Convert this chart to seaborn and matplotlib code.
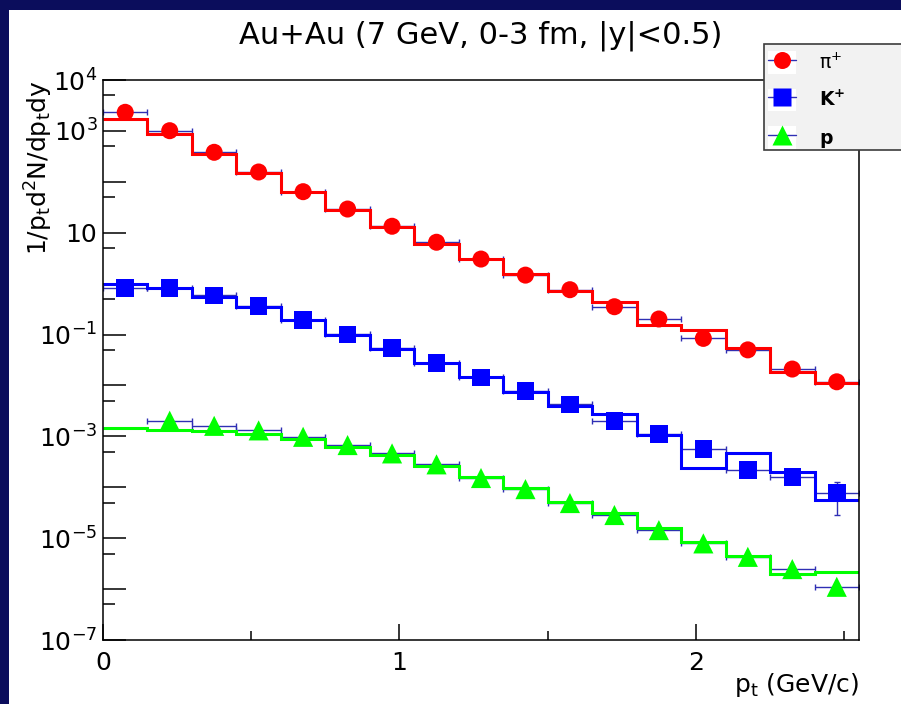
import numpy as np
import pandas as pd
import matplotlib
matplotlib.use("Agg")
import matplotlib.pyplot as plt
import seaborn as sns
from matplotlib.patches import Rectangle
from matplotlib.lines import Line2D
from matplotlib.legend_handler import HandlerTuple
from matplotlib.ticker import FixedLocator, FixedFormatter, NullFormatter

# ---- data: transverse-momentum bins (GeV/c) ----
bin_edges = [0.0, 0.15, 0.30, 0.45, 0.60, 0.75, 0.90, 1.05, 1.20, 1.35,
             1.50, 1.65, 1.80, 1.95, 2.10, 2.25, 2.40, 2.55]

# measured spectra (points) and model (histogram) per species
pion_data = [2320, 1010, 380, 156, 64.0, 29.2, 13.4, 6.5, 3.04, 1.47,
             0.76, 0.352, 0.202, 0.084, 0.050, 0.021, 0.0118]
pion_err = [70, 30, 11, 4.7, 1.9, 0.9, 0.4, 0.2, 0.09, 0.05,
            0.025, 0.012, 0.007, 0.003, 0.002, 0.001, 0.0012]
pion_model = [1690, 857, 352, 147, 62.2, 27.9, 13.1, 5.92, 3.0, 1.52,
              0.706, 0.429, 0.156, 0.121, 0.0543, 0.0181, 0.011]

kaon_data = [0.83, 0.83, 0.589, 0.363, 0.193, 0.101, 0.0543, 0.0279, 0.0144,
             0.00787, 0.00426, 0.00202, 0.00111, 0.000562, 0.000218,
             0.000161, 7.8e-5]
kaon_err = [0.03, 0.03, 0.02, 0.013, 0.007, 0.004, 0.002, 0.0012, 0.0007,
            0.0004, 0.00025, 0.00013, 8e-5, 5e-5, 2.5e-5, 2.5e-5, 5.0e-5]
kaon_model = [0.968, 0.83, 0.553, 0.342, 0.193, 0.0977, 0.0512, 0.0272,
              0.0144, 0.00731, 0.00399, 0.00274, 0.00108, 0.000235,
              0.00048, 0.000197, 5.6e-5]

proton_data = [np.nan, 2.03e-3, 1.61e-3, 1.31e-3, 9.8e-4, 6.75e-4, 4.63e-4,
               2.82e-4, 1.52e-4, 9.2e-5, 4.9e-5, 2.85e-5, 1.44e-5, 7.9e-6,
               4.3e-6, 2.47e-6, 1.11e-6]
proton_err = [np.nan, 8e-5, 6e-5, 5e-5, 4e-5, 3e-5, 2e-5, 1.2e-5, 7e-6,
              4e-6, 2.2e-6, 1.4e-6, 7e-7, 4e-7, 2.2e-7, 1.3e-7, 7e-8]
proton_model = [1.44e-3, 1.35e-3, 1.27e-3, 1.09e-3, 8.85e-4, 6.25e-4,
                4.3e-4, 2.64e-4, 1.61e-4, 9.5e-5, 5.05e-5, 3.07e-5, 1.6e-5,
                8.5e-6, 4.5e-6, 1.95e-6, 2.13e-6]

species = ["pi+", "K+", "p"]
legend_labels = [r"$\pi^{+}$", r"$\mathbf{K^{+}}$", r"$\mathbf{p}$"]
ytick_labels = ["10$^{-7}$", "", "10$^{-5}$", "", "10$^{-3}$", "",
                "10$^{-1}$", "", "10", "", "10$^{3}$", "10$^{4}$"]
title = "Au+Au (7 GeV, 0-3 fm, |y|<0.5)"

# ---- styling ----
sns.set_theme(style="white")
plt.rcParams["font.family"] = ["DejaVu Sans"]
plt.rcParams["mathtext.default"] = "regular"

edges = np.asarray(bin_edges)
centers = 0.5 * (edges[1:] + edges[:-1])
half_width = 0.5 * np.diff(edges)

rows = []
for name, d, e in zip(species, [pion_data, kaon_data, proton_data],
                      [pion_err, kaon_err, proton_err]):
    for x, hw, v, ev in zip(centers, half_width, d, e):
        rows.append({"species": name, "pt": x, "xerr": hw, "value": v, "err": ev})
df = pd.DataFrame(rows).dropna()

model = {"pi+": pion_model, "K+": kaon_model, "p": proton_model}
line_color = {"pi+": "#ff0000", "K+": "#0000ff", "p": "#00ff00"}
marker = {"pi+": "o", "K+": "s", "p": "^"}
msize = {"pi+": 150, "K+": 160, "p": 210}
err_color = "#2f2fb4"
navy = "#0b0d5c"

fig = plt.figure(figsize=(9.01, 7.04), dpi=100, facecolor="white")
ax = fig.add_axes([103 / 901, 64 / 704, 756 / 901, 560 / 704])
ax.set_facecolor("white")
ax.set_yscale("log")

for name in species:
    sub = df[df["species"] == name]
    ax.errorbar(sub["pt"], sub["value"], xerr=sub["xerr"], yerr=sub["err"],
                fmt="none", ecolor=err_color, elinewidth=1.0, capsize=2.3,
                capthick=1.0, zorder=2)
    ax.stairs(model[name], edges, baseline=None, color=line_color[name],
              linewidth=2.2, zorder=2.5)
    sns.scatterplot(data=sub, x="pt", y="value", marker=marker[name],
                    s=msize[name], color=line_color[name], edgecolor="none",
                    linewidth=0, ax=ax, zorder=3, legend=False)

ax.set_xlim(0, 2.55)
ax.set_ylim(1e-7, 1e4)

ax.xaxis.set_major_locator(FixedLocator([0, 1, 2]))
ax.xaxis.set_major_formatter(FixedFormatter(["0", "1", "2"]))
ax.xaxis.set_minor_locator(FixedLocator([0.5, 1.5, 2.5]))
ax.yaxis.set_major_locator(FixedLocator(10.0 ** np.arange(-7, 5)))
ax.yaxis.set_major_formatter(FixedFormatter(ytick_labels))
ax.yaxis.set_minor_locator(FixedLocator(5 * 10.0 ** np.arange(-7, 4)))
ax.yaxis.set_minor_formatter(NullFormatter())

ax.tick_params(which="both", direction="in", color="black", width=1.1,
               bottom=True, left=True, top=False, right=False,
               labelcolor="black")
ax.tick_params(axis="x", which="major", length=11.5, pad=8, labelsize=18)
ax.tick_params(axis="x", which="minor", length=6.5)
ax.tick_params(axis="y", which="major", length=16.5, pad=4, labelsize=18)
ax.tick_params(axis="y", which="minor", length=8.6)
for sp in ax.spines.values():
    sp.set_color("black")
    sp.set_linewidth(1.1)

ax.set_title(title, fontsize=22, pad=26.4, color="black")
ax.set_xlabel("p$_{t}$ (GeV/c)", fontsize=18, loc="right", color="black")
ax.xaxis.set_label_coords(1.0, -0.055)
ax.set_ylabel("1/p$_{t}$d$^{2}$N/dp$_{t}$dy", fontsize=18, loc="top",
              color="black")
ax.yaxis.set_label_coords(-0.0635, 1.0)

# slide frame
fig.add_artist(Rectangle((0, 0), 9 / 901, 1, transform=fig.transFigure,
                         facecolor=navy, edgecolor="none", zorder=10))
fig.add_artist(Rectangle((0, 1 - 10 / 704), 1, 10 / 704,
                         transform=fig.transFigure, facecolor=navy,
                         edgecolor="none", zorder=10))

# legend panel
fig.add_artist(Rectangle((764 / 901, 1 - 150 / 704), 150 / 901, 106 / 704,
                         transform=fig.transFigure, facecolor="#f2f2f2",
                         edgecolor="#3c3c3c", linewidth=1.2, zorder=5,
                         clip_on=False))
handles = []
for name in species:
    box = Rectangle((0, 0), 1, 1, facecolor="white", edgecolor="none")
    ln = Line2D([], [], color=err_color, linewidth=1.0, marker=marker[name],
                markersize=np.sqrt(msize[name]), markerfacecolor=line_color[name],
                markeredgecolor="none")
    handles.append((box, ln))
leg = fig.legend(handles, legend_labels, loc="upper left",
                 bbox_to_anchor=(768 / 901, 1 - 51 / 704),
                 bbox_transform=fig.transFigure, frameon=False,
                 handler_map={tuple: HandlerTuple(ndivide=1, pad=0)},
                 handlelength=1.5, handleheight=1.5, handletextpad=1.2,
                 labelspacing=0.78, borderpad=0, borderaxespad=0,
                 fontsize=13.5)
leg.set_zorder(6)
for t in leg.get_texts():
    t.set_color("black")

fig.savefig("out.png", dpi=100, facecolor="white")
